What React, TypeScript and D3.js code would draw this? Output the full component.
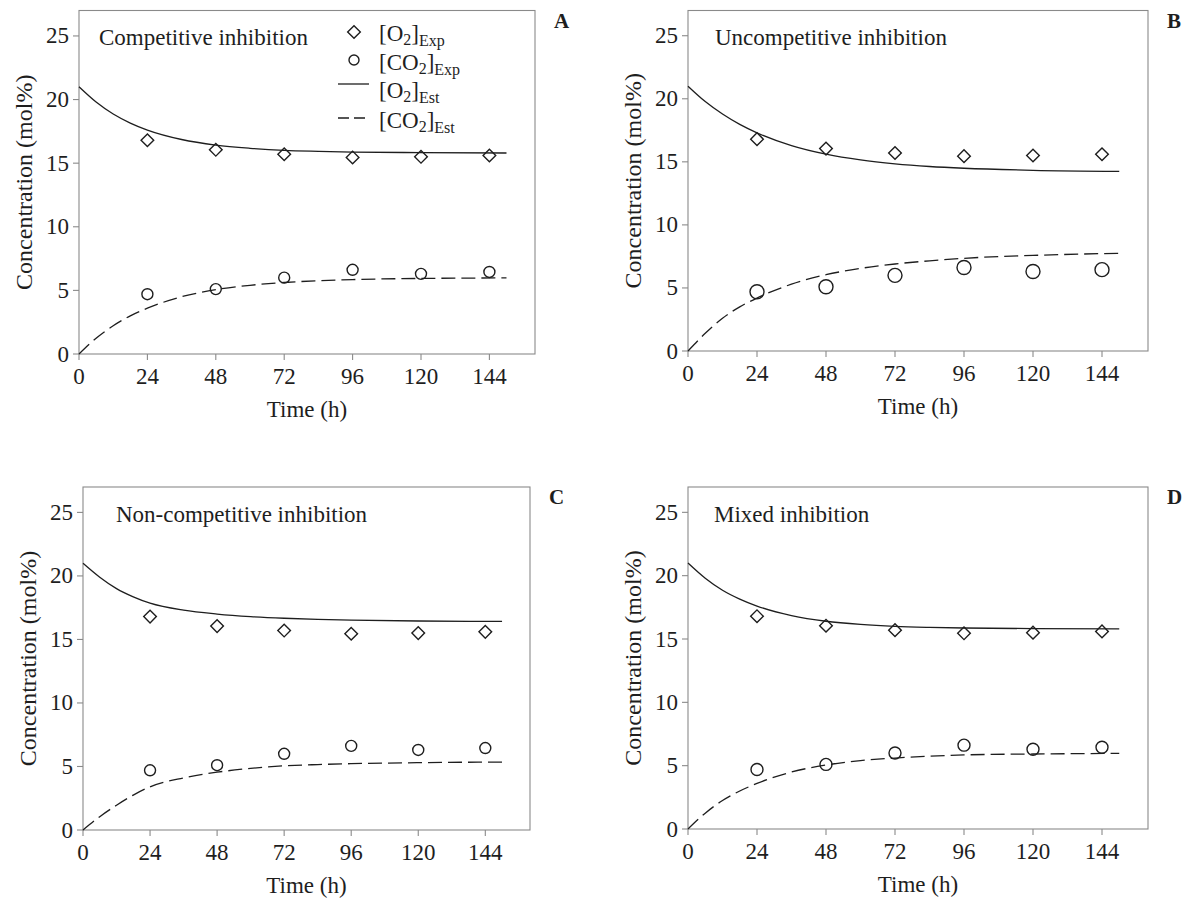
import React from "react";
import * as d3 from "d3";

// ---- data ----
const expTimes = [24, 48, 72, 96, 120, 144];
const o2Exp = [16.8, 16.05, 15.7, 15.45, 15.5, 15.6];
const co2Exp = [4.7, 5.1, 6.0, 6.62, 6.3, 6.45];

const estTimes = [0, 6, 12, 18, 24, 36, 48, 60, 72, 84, 96, 120, 150];
const o2EstA = [21, 19.8, 18.86, 18.15, 17.6, 16.86, 16.42, 16.17, 16.01, 15.93, 15.87, 15.83, 15.8];
const co2EstA = [0, 1.24, 2.22, 3.0, 3.6, 4.5, 5.06, 5.4, 5.62, 5.76, 5.85, 5.94, 5.98];
const o2EstB = [21, 19.78, 18.79, 17.97, 17.3, 16.29, 15.61, 15.15, 14.84, 14.63, 14.49, 14.33, 14.25];
const co2EstB = [0, 1.4, 2.6, 3.5, 4.2, 5.3, 6.05, 6.55, 6.9, 7.15, 7.35, 7.58, 7.75];
const o2EstC = [21, 19.9, 19.0, 18.35, 17.85, 17.3, 17.0, 16.8, 16.67, 16.58, 16.52, 16.45, 16.42];
const co2EstC = [0, 1.05, 1.95, 2.75, 3.4, 4.1, 4.55, 4.85, 5.05, 5.15, 5.22, 5.3, 5.35];
const o2EstD = [21, 19.8, 18.85, 18.15, 17.6, 16.85, 16.4, 16.15, 16.0, 15.92, 15.87, 15.82, 15.8];
const co2EstD = [0, 1.25, 2.25, 3.0, 3.6, 4.5, 5.05, 5.4, 5.6, 5.75, 5.85, 5.92, 5.97];

const xTicks = [0, 24, 48, 72, 96, 120, 144];
const yTicks = [0, 5, 10, 15, 20, 25];
const xDomain = [0, 160];
const yDomain = [0, 27];

const panelTitles = ["Competitive inhibition", "Uncompetitive inhibition", "Non-competitive inhibition", "Mixed inhibition"];
const panelLetters = ["A", "B", "C", "D"];
const xLabel = "Time (h)";
const yLabel = "Concentration (mol%)";

// layout (pixel boxes for each panel)
const boxes = [
  { l: 79, t: 10.5, r: 535, b: 354, cr: 5.5, titleDx: 20 },
  { l: 688, t: 10.5, r: 1148, b: 351, cr: 7, titleDx: 27 },
  { l: 83, t: 487, r: 530, b: 830, cr: 5.5, titleDx: 33 },
  { l: 688, t: 487, r: 1148, b: 829, cr: 6, titleDx: 26 },
];
const estO2 = [o2EstA, o2EstB, o2EstC, o2EstD];
const estCO2 = [co2EstA, co2EstB, co2EstC, co2EstD];

const FONT = "'Liberation Serif', 'Times New Roman', serif";
const AXIS = "#8a8a8a";
const INK = "#1e1e1e";

const diamond = d3.symbol().type(d3.symbolSquare).size(80)();

function Panel({ idx }: { idx: number }) {
  const bx = boxes[idx];
  const x = d3.scaleLinear().domain(xDomain).range([bx.l, bx.r]);
  const y = d3.scaleLinear().domain(yDomain).range([bx.b, bx.t]);
  const line = d3
    .line<number>()
    .x((_, i) => x(estTimes[i]))
    .y((v) => y(v))
    .curve(d3.curveMonotoneX);
  const cx = (bx.l + bx.r) / 2;
  const cy = (bx.t + bx.b) / 2;
  return (
    <g>
      <rect x={bx.l} y={bx.t} width={bx.r - bx.l} height={bx.b - bx.t} fill="none" stroke={AXIS} strokeWidth={1.1} />
      {yTicks.map((v) => (
        <g key={"y" + v}>
          <line x1={bx.l - 6} x2={bx.l} y1={y(v)} y2={y(v)} stroke={AXIS} strokeWidth={1.1} />
          <text x={bx.l - 10} y={y(v) + 7.5} textAnchor="end" fontSize={23} fontFamily={FONT} fill={INK}>
            {v}
          </text>
        </g>
      ))}
      {xTicks.map((v) => (
        <g key={"x" + v}>
          <line x1={x(v)} x2={x(v)} y1={bx.b} y2={bx.b + 6} stroke={AXIS} strokeWidth={1.1} />
          <text x={x(v)} y={bx.b + 30} textAnchor="middle" fontSize={23} fontFamily={FONT} fill={INK}>
            {v}
          </text>
        </g>
      ))}
      <text x={cx} y={bx.b + 63} textAnchor="middle" fontSize={23} fontFamily={FONT} fill={INK}>
        {xLabel}
      </text>
      <text
        transform={`translate(${bx.l - 47},${cy}) rotate(-90)`}
        textAnchor="middle"
        fontSize={24}
        fontFamily={FONT}
        fill={INK}
      >
        {yLabel}
      </text>
      <text x={bx.l + bx.titleDx} y={bx.t + 34.5} fontSize={23} fontFamily={FONT} fill={INK}>
        {panelTitles[idx]}
      </text>
      <text x={bx.r + 19} y={bx.t + 17} fontSize={21} fontWeight="bold" fontFamily={FONT} fill={INK}>
        {panelLetters[idx]}
      </text>
      <path d={line(estO2[idx]) || ""} fill="none" stroke={INK} strokeWidth={1.3} />
      <path d={line(estCO2[idx]) || ""} fill="none" stroke={INK} strokeWidth={1.3} strokeDasharray="14 6" />
      {expTimes.map((t, i) => (
        <path
          key={"d" + t}
          d={diamond}
          transform={`translate(${x(t)},${y(o2Exp[i])}) rotate(45)`}
          fill="none"
          stroke={INK}
          strokeWidth={1.4}
        />
      ))}
      {expTimes.map((t, i) => (
        <circle key={"c" + t} cx={x(t)} cy={y(co2Exp[i])} r={bx.cr} fill="none" stroke={INK} strokeWidth={1.4} />
      ))}
    </g>
  );
}

function Legend() {
  const mx = 354;
  const tx = 379;
  const rows = [
    { main: "[O", sub2: "2", rest: "]", sub: "Exp", yb: 41, kind: "diamond", my: 32 },
    { main: "[CO", sub2: "2", rest: "]", sub: "Exp", yb: 70, kind: "circle", my: 60 },
    { main: "[O", sub2: "2", rest: "]", sub: "Est", yb: 98, kind: "solid", my: 84 },
    { main: "[CO", sub2: "2", rest: "]", sub: "Est", yb: 128, kind: "dash", my: 118 },
  ];
  return (
    <g>
      {rows.map((r, i) => (
        <g key={i}>
          {r.kind === "diamond" && (
            <path d={diamond} transform={`translate(${mx},${r.my}) rotate(45)`} fill="none" stroke={INK} strokeWidth={1.4} />
          )}
          {r.kind === "circle" && <circle cx={mx} cy={r.my} r={5} fill="none" stroke={INK} strokeWidth={1.4} />}
          {r.kind === "solid" && <line x1={338} x2={369} y1={r.my} y2={r.my} stroke={INK} strokeWidth={1.3} />}
          {r.kind === "dash" && (
            <line x1={338} x2={369} y1={r.my} y2={r.my} stroke={INK} strokeWidth={1.3} strokeDasharray="11 5" />
          )}
          <text x={tx} y={r.yb} fontSize={23} fontFamily={FONT} fill={INK}>
            {r.main}
            <tspan fontSize={16} dy={4}>{r.sub2}</tspan>
            <tspan dy={-4}>{r.rest}</tspan>
            <tspan fontSize={16} dy={5}>{r.sub}</tspan>
          </text>
        </g>
      ))}
    </g>
  );
}

export default function App() {
  return (
    <svg
      width={1186}
      height={900}
      style={{ position: "absolute", left: 0, top: 0, background: "#fff" }}
    >
      <rect width={1186} height={900} fill="#fff" />
      {[0, 1, 2, 3].map((i) => (
        <Panel key={i} idx={i} />
      ))}
      <Legend />
    </svg>
  );
}
